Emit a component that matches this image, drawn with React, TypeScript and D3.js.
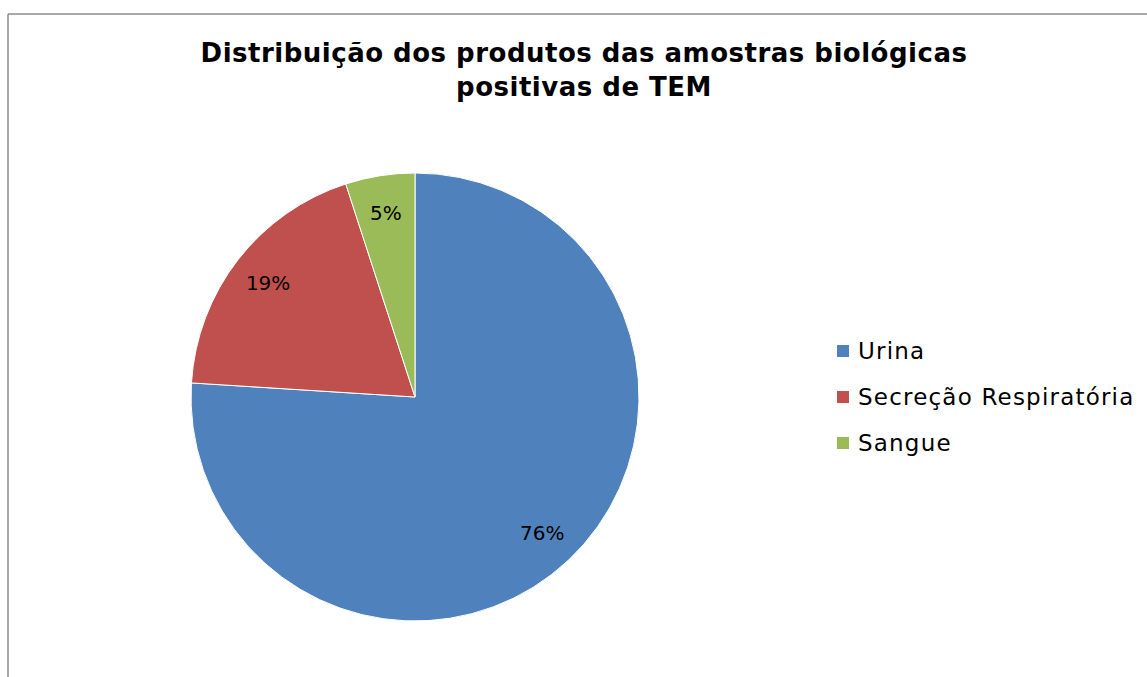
import React from "react";
import * as d3 from "d3";

const categories = ["Urina", "Secreção Respiratória", "Sangue"];
const values = [76, 19, 5];
const colors = ["#4F81BD", "#C0504D", "#9BBB59"];
const titleLines = ["Distribuição dos produtos das amostras biológicas", "positivas de TEM"];

const W = 1147;
const H = 677;

export default function App() {
  const cx = 415;
  const cy = 397;
  const r = 224;

  const pie = d3.pie<number>().sort(null).value((d) => d);
  const arcs = pie(values);
  const arc = d3.arc<d3.PieArcDatum<number>>().innerRadius(0).outerRadius(r);
  const labelArc = d3.arc<d3.PieArcDatum<number>>().innerRadius(r * 0.83).outerRadius(r * 0.83);
  const total = d3.sum(values);

  const legendY = d3.scalePoint<string>().domain(categories).range([351, 443]);

  return (
    <svg
      width={W}
      height={H}
      style={{ position: "absolute", left: 0, top: 0, background: "#fff" }}
      fontFamily="DejaVu Sans, Verdana, sans-serif"
    >
      <line x1={8} y1={14} x2={W} y2={14} stroke="#8c8c8c" strokeWidth={1.5} />
      <line x1={8} y1={14} x2={8} y2={H} stroke="#8c8c8c" strokeWidth={1.5} />

      {titleLines.map((t, i) => (
        <text
          key={i}
          x={584}
          y={62 + i * 34}
          textAnchor="middle"
          fontSize={26}
          fontWeight="bold"
          letterSpacing={0.5}
          fill="#000"
        >
          {t}
        </text>
      ))}

      <g transform={`translate(${cx},${cy})`}>
        {arcs.map((a, i) => (
          <path key={i} d={arc(a) ?? ""} fill={colors[i]} stroke="#fff" strokeWidth={1} />
        ))}
        {arcs.map((a, i) => {
          const [x, y] = labelArc.centroid(a);
          return (
            <text key={i} x={x} y={y} textAnchor="middle" dominantBaseline="central" fontSize={20} fill="#000">
              {Math.round((a.data / total) * 100)}%
            </text>
          );
        })}
      </g>

      {categories.map((c, i) => (
        <g key={c} transform={`translate(837,${legendY(c)})`}>
          <rect x={0} y={-6} width={12} height={12} fill={colors[i]} />
          <text x={21} y={0} dominantBaseline="central" fontSize={23} letterSpacing={1.2} fill="#000">
            {c}
          </text>
        </g>
      ))}
    </svg>
  );
}
